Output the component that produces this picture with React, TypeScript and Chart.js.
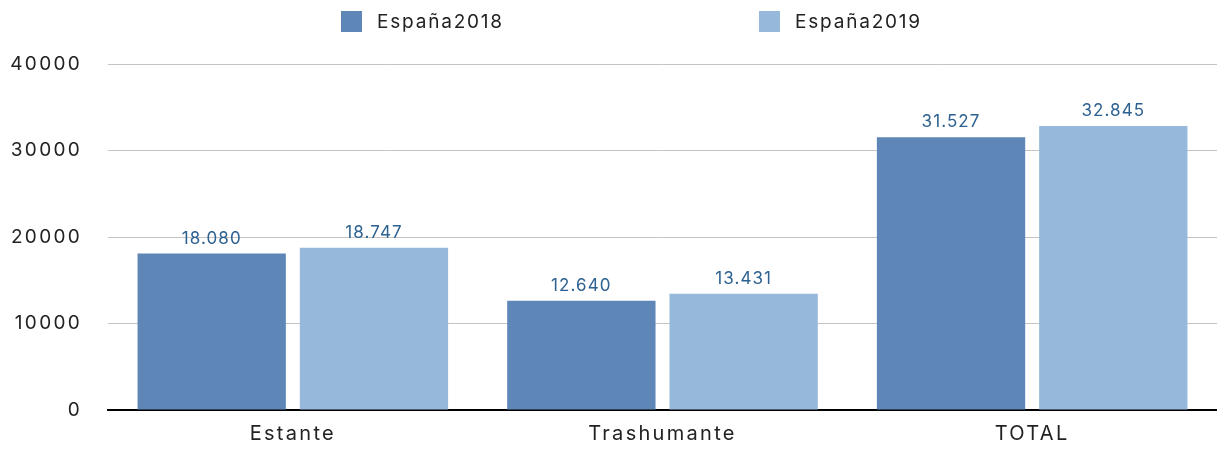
import React, { useEffect, useRef } from "react";
import { Chart, registerables } from "chart.js";

Chart.register(...registerables);

const categories = ["Estante", "Trashumante", "TOTAL"];
const seriesNames = ["España2018", "España2019"];
const values2018 = [18080, 12640, 31527];
const values2019 = [18747, 13431, 32845];
const yTicks = [0, 10000, 20000, 30000, 40000];
const colors = ["#5E87B8", "#96B9DB"];

const FONT = "Inter, 'Open Sans', sans-serif";

function fmt(v: number): string {
  return String(Math.round(v)).replace(/\B(?=(\d{3})+(?!\d))/g, ".");
}

const spacing = {
  id: "spacing",
  beforeDraw(chart: any) {
    (chart.ctx as any).letterSpacing = "2.3px";
  },
};

const valueLabels = {
  id: "valueLabels",
  afterDatasetsDraw(chart: any) {
    const ctx = chart.ctx;
    ctx.save();
    (ctx as any).letterSpacing = "1.1px";
    ctx.font = `17px ${FONT}`;
    ctx.fillStyle = "#2D6190";
    ctx.textAlign = "center";
    ctx.textBaseline = "alphabetic";
    chart.data.datasets.forEach((ds: any, i: number) => {
      const meta = chart.getDatasetMeta(i);
      meta.data.forEach((bar: any, j: number) => {
        ctx.fillText(fmt(ds.data[j]), bar.x, bar.y - 10);
      });
    });
    ctx.restore();
  },
};

const topLegend = {
  id: "topLegend",
  afterDraw(chart: any) {
    const ctx = chart.ctx;
    ctx.save();
    (ctx as any).letterSpacing = "1.8px";
    ctx.font = `19px ${FONT}`;
    ctx.textBaseline = "middle";
    ctx.textAlign = "left";
    const startX = 341;
    const step = 418;
    const cy = 22;
    chart.data.datasets.forEach((ds: any, i: number) => {
      const x = startX + i * step;
      ctx.fillStyle = ds.backgroundColor;
      ctx.fillRect(x, cy - 11, 21, 21);
      ctx.fillStyle = "#222222";
      ctx.fillText(ds.label, x + 36, cy);
    });
    ctx.restore();
  },
};

export default function App() {
  const ref = useRef<HTMLCanvasElement>(null);
  useEffect(() => {
    if (!ref.current) return;
    const chart = new Chart(ref.current, {
      type: "bar",
      data: {
        labels: categories,
        datasets: [
          { label: seriesNames[0], data: values2018, backgroundColor: colors[0] },
          { label: seriesNames[1], data: values2019, backgroundColor: colors[1] },
        ],
      },
      options: {
        animation: false,
        responsive: false,
        maintainAspectRatio: false,
        layout: { padding: { top: 64, right: 0, left: 0, bottom: 0 } },
        datasets: {
          bar: { categoryPercentage: 0.878, barPercentage: 0.914 },
        } as any,
        plugins: {
          legend: { display: false },
          tooltip: { enabled: false },
        },
        scales: {
          x: {
            grid: { display: false, drawTicks: false },
            border: { display: true, color: "#000000", width: 2 },
            ticks: { color: "#222222", font: { size: 20, family: FONT }, padding: 12 },
            afterFit: (s: any) => {
              s.height = 39;
            },
          },
          y: {
            min: 0,
            max: 40000,
            afterBuildTicks: (s: any) => {
              s.ticks = yTicks.map((v) => ({ value: v }));
            },
            grid: { color: "#C4C4C4", lineWidth: 1, drawTicks: false },
            border: { display: false },
            ticks: {
              color: "#222222",
              font: { size: 19, family: FONT },
              padding: 26,
              callback: (v: any) => String(v),
            },
            afterFit: (s: any) => {
              s.width = 108;
            },
          },
        },
      },
      plugins: [spacing, valueLabels, topLegend],
    });
    return () => chart.destroy();
  }, []);
  return (
    <div style={{ position: "fixed", left: 0, top: 0, width: 1217, height: 449, background: "#fff" }}>
      <canvas ref={ref} width={1217} height={449} />
    </div>
  );
}
